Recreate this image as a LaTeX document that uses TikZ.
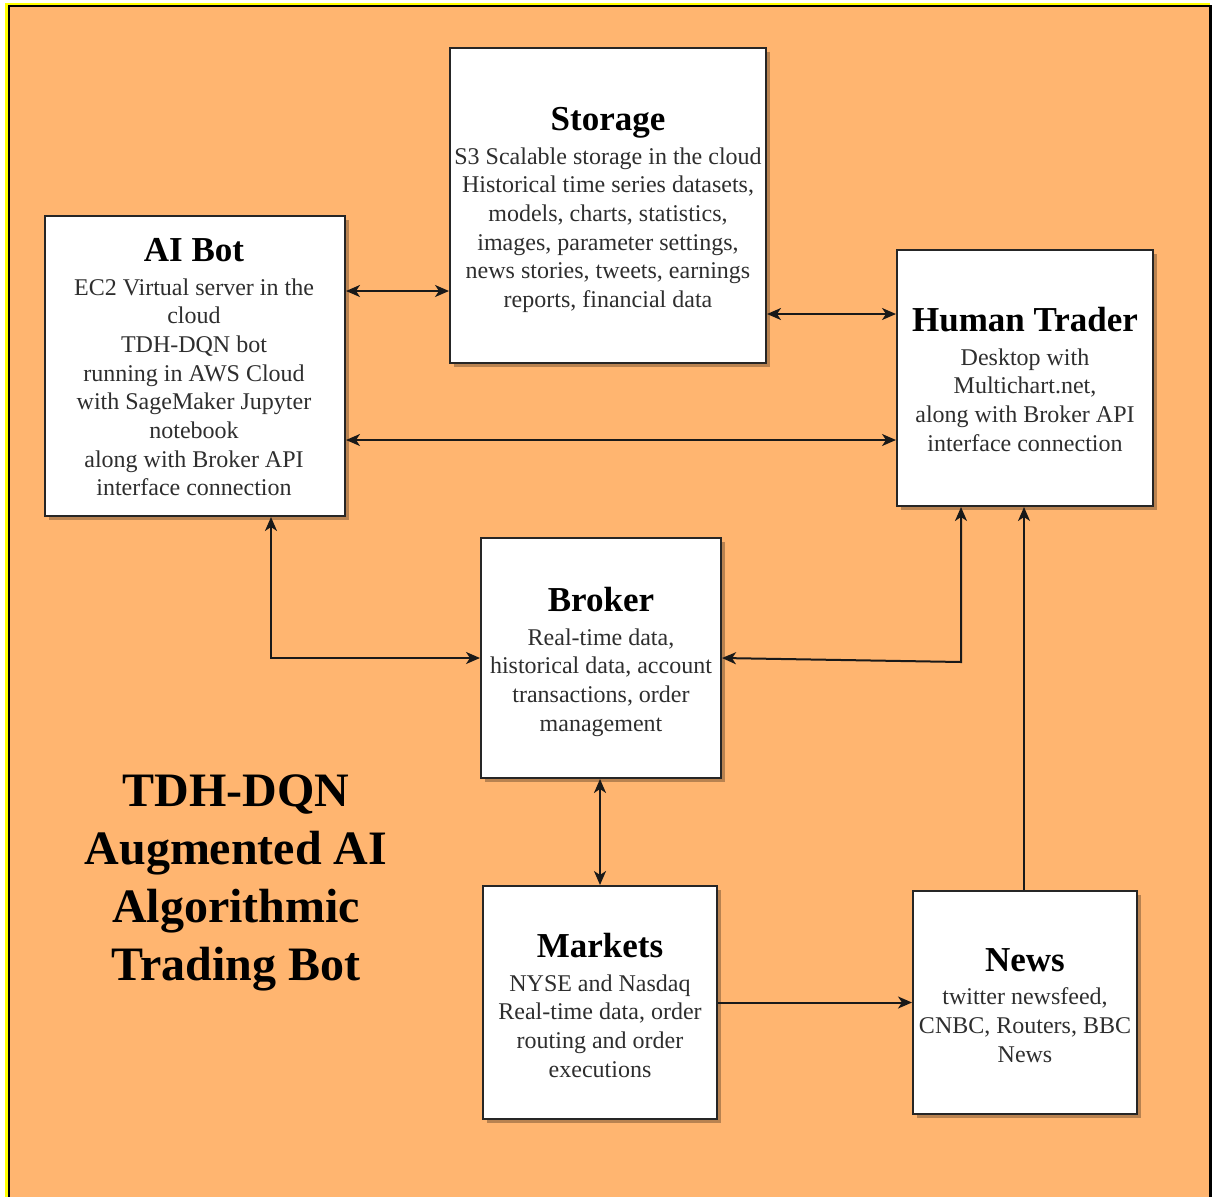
\documentclass[tikz,border=0pt]{standalone}
\usepackage{fontspec}
\setmainfont{Liberation Serif}
\usetikzlibrary{arrows.meta,shadows}
\definecolor{bgorange}{HTML}{FFB570}
\definecolor{frameyellow}{HTML}{FFFF00}
\definecolor{bodytext}{HTML}{2E2E2E}
\begin{document}
\begin{tikzpicture}[x=1pt,y=-1pt,
  box/.style={draw=black!85, line width=2pt, fill=white, inner sep=0pt,
    drop shadow={shadow xshift=4pt,shadow yshift=-4pt,opacity=0.28,fill=black}},
  boxtext/.style={anchor=north, inner sep=0pt, align=center, text=bodytext,
    font=\fontsize{24}{28.7}\selectfont},
  link/.style={line width=2pt, draw=black!90},
  tip/.tip={Stealth[length=14pt,width=12pt,inset=4pt]},
  bi/.style={link, tip-tip},
  uni/.style={link, -tip},
  titletext/.style={anchor=north, inner sep=0pt, align=center, text=black,
    font=\fontsize{48}{58}\selectfont\bfseries}]
\newcommand\bh[1]{{\fontsize{35}{35}\selectfont\bfseries\color{black}#1}}
% page and frame
\useasboundingbox (0,0) rectangle (1212,1197);
\fill[white] (0,0) rectangle (1212,1197);
\fill[frameyellow] (5,2.7) rectangle (1210,1197);
\fill[black] (8,5) rectangle (1212,1197);
\fill[bgorange] (10,7.3) rectangle (1209.3,1197);

% boxes
\node[box, minimum width=316pt, minimum height=315pt] (storage) at (608,205.5) {};
\node[box, minimum width=300pt, minimum height=300pt] (ai) at (195,366) {};
\node[box, minimum width=256pt, minimum height=256pt] (ht) at (1025,378) {};
\node[box, minimum width=240pt, minimum height=240pt] (broker) at (601,658) {};
\node[box, minimum width=234pt, minimum height=233pt] (markets) at (600,1002.5) {};
\node[box, minimum width=224pt, minimum height=223pt] (news) at (1025,1002.5) {};

% box texts
\node[boxtext, yshift=-60pt] (storage-t) at (storage.north) {\bh{Storage}\\[5pt]
  S3 Scalable storage in the cloud\\
  Historical time series datasets,\\
  models, charts, statistics,\\
  images, parameter settings,\\
  news stories, tweets, earnings\\
  reports, financial data};
\node[boxtext, yshift=-23pt, xshift=-1pt] (ai-t) at (ai.north) {\bh{AI Bot}\\[5pt]
  EC2 Virtual server in the\\
  cloud\\
  TDH-DQN bot\\
  running in AWS Cloud\\
  with SageMaker Jupyter\\
  notebook\\
  along with Broker API\\
  interface connection};
\node[boxtext, yshift=-58pt] (ht-t) at (ht.north) {\bh{Human Trader}\\[5pt]
  Desktop with\\
  Multichart.net,\\
  along with Broker API\\
  interface connection};
\node[boxtext, yshift=-50pt] (broker-t) at (broker.north) {\bh{Broker}\\[5pt]
  Real-time data,\\
  historical data, account\\
  transactions, order\\
  management};
\node[boxtext, yshift=-48pt] (markets-t) at (markets.north) {\bh{Markets}\\[5pt]
  NYSE and Nasdaq\\
  Real-time data, order\\
  routing and order\\
  executions};
\node[boxtext, yshift=-58pt] (news-t) at (news.north) {\bh{News}\\[5pt]
  twitter newsfeed,\\
  CNBC, Routers, BBC\\
  News};

% title
\node[titletext] (title) at (236,775) {TDH-DQN\\Augmented AI\\Algorithmic\\Trading Bot};

% connector helper coordinates
\coordinate (y1) at (0,291);
\coordinate (y2) at (0,314);
\coordinate (y3) at (0,440);
\coordinate (k1) at (271,658);
\coordinate (k2) at (961,662);
\coordinate (x6) at (600,0);
\coordinate (x8) at (1024,0);

% connectors
\draw[bi] (ai.east |- y1) -- (storage.west |- y1);
\draw[bi] (storage.east |- y2) -- (ht.west |- y2);
\draw[bi] (ai.east |- y3) -- (ht.west |- y3);
\draw[bi] (ai.south -| k1) -- (k1) -- (broker.west |- k1);
\draw[bi] (ht.south -| k2) -- (k2) -- (broker.east);
\draw[bi] (broker.south -| x6) -- (markets.north -| x6);
\draw[uni] (markets.east) -- (news.west);
\draw[uni] (news.north -| x8) -- (ht.south -| x8);
\end{tikzpicture}
\end{document}
